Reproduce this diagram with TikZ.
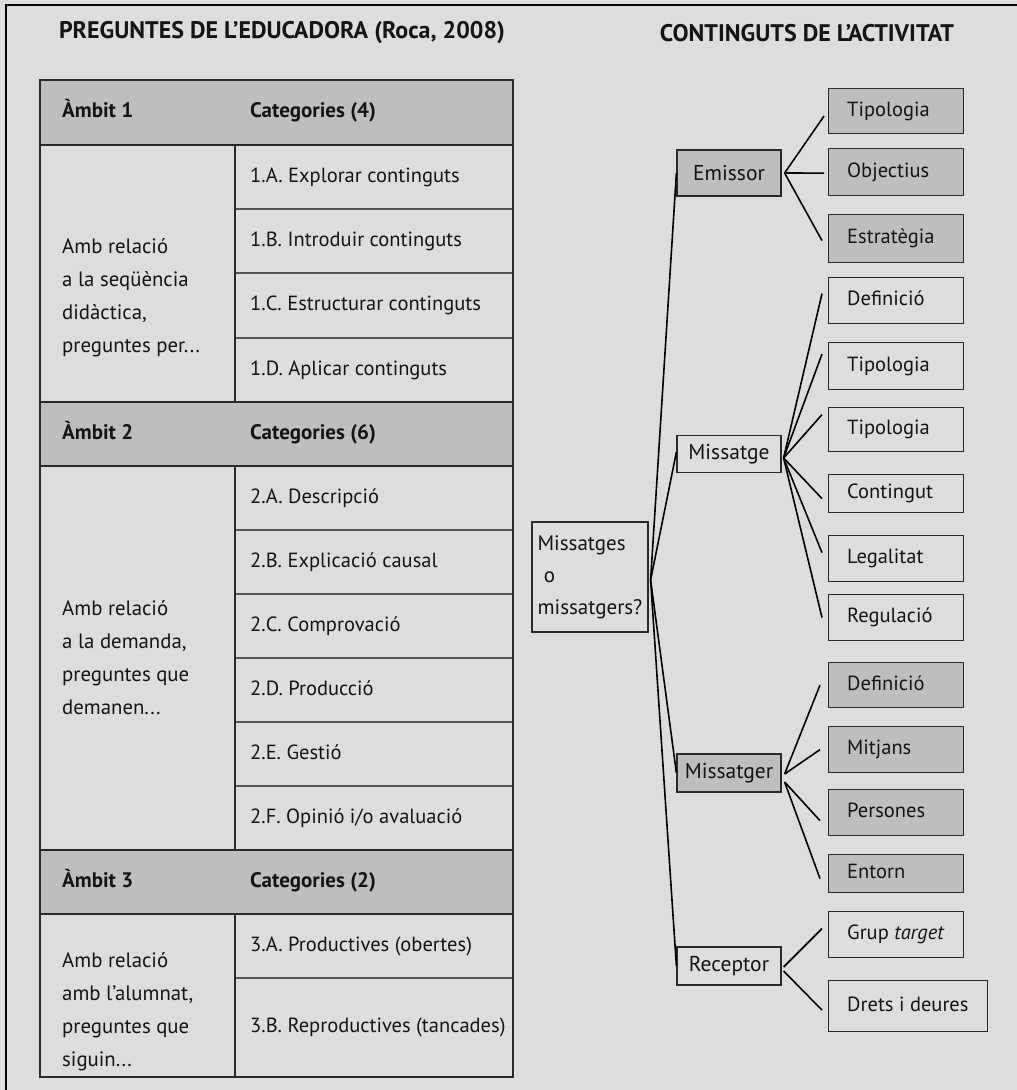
\documentclass[tikz,border=0pt]{standalone}
\usepackage{fontspec}
\setmainfont{PT Sans}
\usetikzlibrary{calc}
\definecolor{bg}{HTML}{DCDDDF}
\definecolor{hd}{HTML}{BDBEC0}
\definecolor{ln}{HTML}{2A2A2A}
\definecolor{tx}{HTML}{141414}
\newcommand\ctbox[6]{%
  \node[rbox, fill=#5, minimum height=#3pt, minimum width=#4pt] (#1) at (828,#2) {};
  \node[txt] (#1t) at ([xshift=19pt]#1.west) {#6};}
\begin{document}
\begin{tikzpicture}[x=1pt,y=-1pt,
  tbl/.style={draw=ln, line width=1.4pt},
  thin/.style={draw=ln!80, line width=1.2pt},
  ttl/.style={font=\bfseries\fontsize{24}{26}\selectfont, text=tx, inner sep=0},
  hdtxt/.style={font=\bfseries\fontsize{21}{24}\selectfont, anchor=west, text=tx, inner sep=0, text height=14pt, text depth=4pt},
  txt/.style={font=\fontsize{20.5}{33}\selectfont, anchor=west, text=tx, inner sep=0, text height=14pt, text depth=4pt},
  blk/.style={font=\fontsize{20.8}{33}\selectfont, anchor=west, text=tx, inner sep=0, align=left},
  mbox/.style={draw=ln, line width=1.2pt, minimum width=104pt, inner sep=0, font=\fontsize{21.5}{24}\selectfont, text=tx},
  rbox/.style={draw=ln, line width=1.2pt, inner sep=0, anchor=north west},
  conn/.style={line width=1.6pt, black}]
\fill[bg] (0,0) rectangle (1017,1090);
\useasboundingbox (0,0) rectangle (1017,1090);
\draw[line width=1.5pt] (6,1090) -- (6,5) -- (1017,5);

% titles
\node[ttl] (title1) at (282,33) {PREGUNTES DE L’EDUCADORA (Roca, 2008)};
\node[ttl] (title2) at (807,33) {CONTINGUTS DE L’ACTIVITAT};

% table
\fill[hd] (40,80) rectangle (513,145);
\fill[hd] (40,402) rectangle (513,466);
\fill[hd] (40,850) rectangle (513,914);
\draw[thin] (235,209) -- (513,209) (235,273) -- (513,273) (235,338) -- (513,338);
\draw[thin] (235,530) -- (513,530) (235,594) -- (513,594) (235,658) -- (513,658)
            (235,722) -- (513,722) (235,786) -- (513,786);
\draw[thin] (235,978) -- (513,978);
\draw[tbl] (235,145) -- (235,402) (235,466) -- (235,850) (235,914) -- (235,1077);
\draw[tbl] (40,145) -- (513,145) (40,402) -- (513,402) (40,466) -- (513,466)
           (40,850) -- (513,850) (40,914) -- (513,914);
\draw[tbl] (40,80) rectangle (513,1077);

\node[hdtxt] (a1) at (62,112) {Àmbit 1};
\node[hdtxt] (k1) at (250,112) {Categories (4)};
\node[hdtxt] (a2) at (62,434) {Àmbit 2};
\node[hdtxt] (k2) at (250,434) {Categories (6)};
\node[hdtxt] (a3) at (62,882) {Àmbit 3};
\node[hdtxt] (k3) at (250,882) {Categories (2)};

\node[txt] (c1a) at (250,177) {1.A. Explorar continguts};
\node[txt] (c1b) at (250,241) {1.B. Introduir continguts};
\node[txt] (c1c) at (250,305) {1.C. Estructurar continguts};
\node[txt] (c1d) at (250,370) {1.D. Aplicar continguts};
\node[txt] (c2a) at (250,498) {2.A. Descripció};
\node[txt] (c2b) at (250,562) {2.B. Explicació causal};
\node[txt] (c2c) at (250,626) {2.C. Comprovació};
\node[txt] (c2d) at (250,690) {2.D. Producció};
\node[txt] (c2e) at (250,754) {2.E. Gestió};
\node[txt] (c2f) at (250,818) {2.F. Opinió i/o avaluació};
\node[txt] (c3a) at (250,946) {3.A. Productives (obertes)};
\node[txt] (c3b) at (250,1027) {3.B. Reproductives (tancades)};

\node[blk] (l1) at (62,298) {Amb relació\\a la seqüència\\didàctica,\\preguntes per...};
\node[blk] (l2) at (62,658) {Amb relació\\a la demanda,\\preguntes que\\demanen...};
\node[blk] (l3) at (62,1012) {Amb relació\\amb l’alumnat,\\preguntes que\\siguin...};

% tree
\node[draw=ln, line width=1.2pt, minimum width=116pt, minimum height=110pt, inner sep=0,
      align=left, font=\fontsize{21}{32}\selectfont, text=tx] (root) at (590,577)
      {Missatges\\\hspace{0.3em}o\\missatgers?};
\node[mbox, fill=hd, minimum height=46pt] (emi) at (729,173) {Emissor};
\node[mbox, fill=bg, minimum height=37pt] (msg) at (729,454) {Missatge};
\node[mbox, fill=hd, minimum height=38pt] (msgr) at (729,773) {Missatger};
\node[mbox, fill=bg, minimum height=38pt] (rec) at (729,966) {Receptor};

\ctbox{tipA}{88}{45}{135}{hd}{Tipologia}
\ctbox{obj}{148}{47}{135}{hd}{Objectius}
\ctbox{est}{214}{48}{135}{hd}{Estratègia}
\ctbox{defA}{277}{46}{135}{bg}{Definició}
\ctbox{tipB}{342}{47}{135}{bg}{Tipologia}
\ctbox{tipC}{407}{44}{135}{bg}{Tipologia}
\ctbox{cont}{474}{38}{135}{bg}{Contingut}
\ctbox{leg}{535}{46}{135}{bg}{Legalitat}
\ctbox{reg}{594}{46}{135}{bg}{Regulació}
\ctbox{defB}{662}{45}{135}{hd}{Definició}
\ctbox{mitj}{726}{46}{135}{hd}{Mitjans}
\ctbox{pers}{789}{46}{135}{hd}{Persones}
\ctbox{ent}{854}{38}{135}{hd}{Entorn}
\ctbox{grup}{911}{46}{135}{bg}{Grup \textit{target}}
\ctbox{drets}{980}{51}{159}{bg}{Drets i deures}

\coordinate (rv) at ($(root.east)+(2,3)$);
\draw[conn] (rv) -- (emi.west);
\draw[conn] (rv) -- ($(msg.west)+(0,-2)$);
\draw[conn] (rv) -- (msgr.west);
\draw[conn] (rv) -- (rec.west);

\coordinate (ev) at ($(emi.east)+(3,0)$);
\draw[conn] (ev) -- ($(tipA.west)+(-4,5)$);
\draw[conn] (ev) -- ($(obj.west)+(-4,1)$);
\draw[conn] (ev) -- ($(est.west)+(-6,2)$);

\coordinate (mv) at ($(msg.east)+(2,4)$);
\draw[conn] (mv) -- ($(defA.west)+(-6,-7)$);
\draw[conn] (mv) -- ($(tipB.west)+(-6,-12)$);
\draw[conn] (mv) -- ($(tipC.west)+(-6,-15)$);
\draw[conn] (mv) -- ($(cont.west)+(-6,5)$);
\draw[conn] (mv) -- ($(leg.west)+(-6,-6)$);
\draw[conn] (mv) -- ($(reg.west)+(-6,0)$);

\coordinate (gv1) at ($(msgr.east)+(3,1)$);
\coordinate (gv2) at ($(msgr.east)+(3,9)$);
\draw[conn] (gv1) -- ($(defB.west)+(-8,0)$);
\draw[conn] (gv1) -- ($(mitj.west)+(-8,0)$);
\draw[conn] (gv2) -- ($(pers.west)+(-8,8)$);
\draw[conn] (gv2) -- ($(ent.west)+(-8,5)$);

\draw[conn] ($(rec.east)+(2,1)$) -- ($(grup.west)+(-6,-6)$);
\draw[conn] ($(rec.east)+(2,5)$) -- ($(drets.west)+(-6,4)$);
\end{tikzpicture}
\end{document}
